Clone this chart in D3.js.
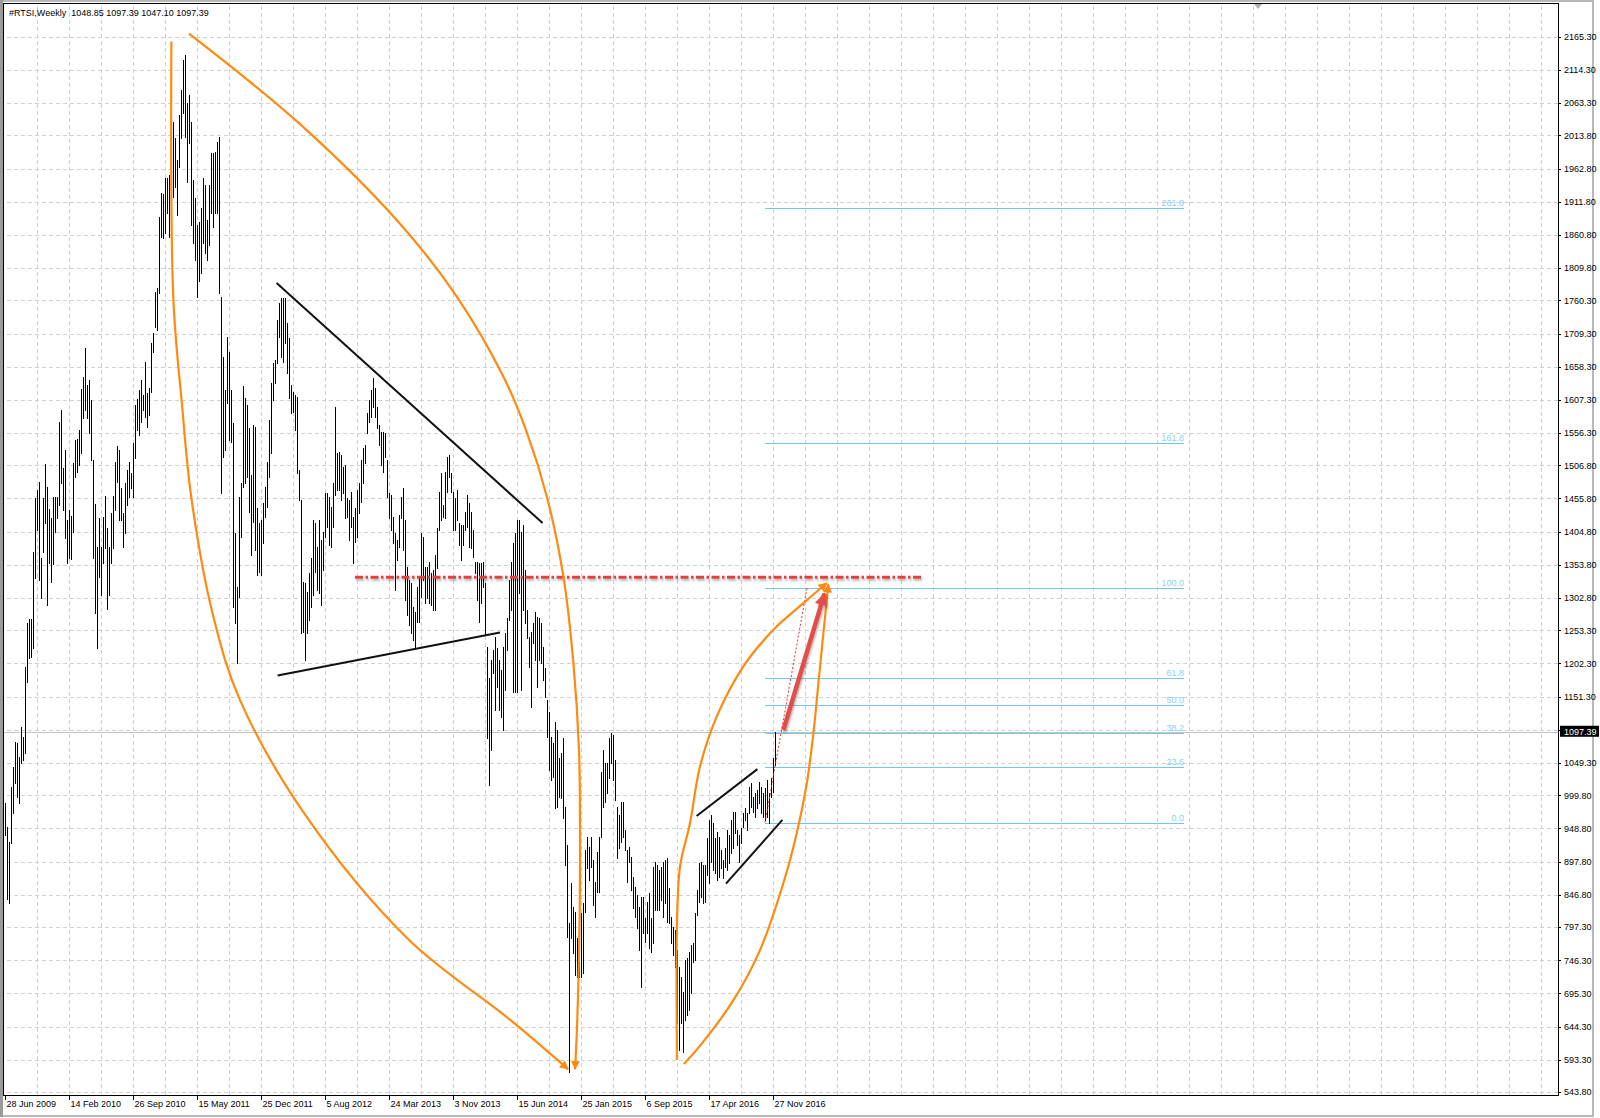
<!DOCTYPE html>
<html>
<head>
<meta charset="utf-8">
<script src="https://cdn.jsdelivr.net/npm/d3@7"></script>
<style>
  body { margin: 0; background: #fff; }
  svg { display: block; font-family: "Liberation Sans", Arial, sans-serif; }
  .axis text { font-size: 9px; fill: #000; }
  .axis .domain { display: none; }
  .axis line { stroke: #000; shape-rendering: crispEdges; }
  .grid line { stroke: #d0d0d0; stroke-dasharray: 4,3; shape-rendering: crispEdges; }
  .grid .domain { display: none; }
</style>
</head>
<body>
<div class="chart"></div>
<script>
// === Data (weekly bars) ===
const symbol = "#RTSI";
const timeframe = "Weekly";
const lastBar = [1048.85, 1097.39, 1047.10, 1097.39]; // open high low close

const hi = [
  988,951,928,1013,1043,1082,1080,1059,1105,1089,
  1197,1265,1271,1271,1374,1457,1469,1481,1364,1457,
  1509,1474,1440,1426,1458,1458,1458,1573,1592,1503,
  1530,1423,1438,1429,1510,1546,1547,1561,1624,1642,
  1687,1630,1638,1607,1515,1447,1381,1426,1381,1427,
  1460,1410,1381,1434,1460,1512,1537,1530,1472,1434,
  1480,1500,1512,1495,1541,1600,1609,1623,1638,1615,
  1665,1618,1626,1695,1710,1773,1779,1888,1925,1924,
  1948,1948,1953,2030,2034,2009,1976,2045,2083,2130,
  2137,2063,2075,2034,1945,1917,1876,1880,1902,1948,
  1937,1884,1937,1986,1986,1988,2003,2011,1765,1673,
  1622,1704,1681,1622,1572,1403,1320,1458,1480,1629,
  1610,1599,1564,1492,1569,1566,1441,1418,1423,1449,
  1474,1512,1576,1633,1664,1669,1730,1756,1764,1764,
  1764,1726,1702,1630,1619,1615,1612,1500,1454,1328,
  1326,1312,1341,1364,1423,1418,1381,1423,1392,1404,
  1464,1464,1458,1443,1480,1596,1526,1527,1523,1504,
  1507,1457,1454,1466,1427,1441,1469,1480,1515,1533,
  1538,1587,1607,1623,1641,1626,1596,1569,1558,1558,
  1556,1515,1464,1461,1427,1403,1392,1431,1458,1472,
  1423,1351,1331,1326,1289,1281,1320,1334,1403,1397,
  1351,1351,1358,1341,1346,1369,1410,1466,1495,1446,
  1497,1520,1523,1495,1466,1457,1469,1418,1415,1415,
  1435,1461,1449,1435,1407,1358,1358,1357,1357,1358,
  1326,1228,1180,1208,1223,1243,1226,1208,1192,1228,
  1249,1272,1331,1358,1387,1403,1423,1423,1404,1415,
  1346,1285,1243,1251,1265,1281,1274,1272,1265,1228,
  1195,1146,1128,1089,1080,1112,1100,1057,1065,1088,
  982,923,804,865,828,821,781,773,819,834,
  916,936,920,936,900,867,913,936,1036,1069,
  1049,1049,1088,1096,1092,1054,982,970,990,990,
  946,916,920,905,874,859,847,828,844,844,
  811,836,850,811,890,897,893,885,890,897,
  900,903,857,813,797,793,762,736,721,698,
  747,750,759,770,773,819,854,896,897,893,
  893,934,962,970,957,934,943,936,916,900,
  919,946,939,962,974,974,946,939,950,973,
  980,973,1013,1019,997,1003,1008,1020,1013,1003,
  1011,1023,1003,1026,1057,1097.39
];

const lo = [
  939,840,835,927,973,1019,997,988,1049,1054,
  1065,1174,1211,1212,1226,1334,1407,1331,1303,1374,
  1418,1292,1357,1328,1355,1404,1426,1446,1480,1438,
  1395,1357,1364,1363,1404,1489,1497,1507,1526,1579,
  1592,1579,1556,1515,1364,1280,1226,1335,1307,1357,
  1380,1286,1307,1357,1380,1438,1481,1423,1423,1381,
  1403,1446,1458,1472,1458,1518,1561,1553,1573,1592,
  1581,1566,1584,1619,1681,1719,1715,1772,1858,1856,
  1864,1894,1858,1858,1919,1934,1891,1965,2009,2048,
  2011,1942,2002,1876,1848,1822,1765,1790,1802,1848,
  1833,1822,1845,1894,1873,1894,1894,1771,1464,1520,
  1530,1602,1546,1543,1289,1265,1203,1305,1397,1474,
  1480,1489,1435,1369,1420,1377,1338,1343,1338,1387,
  1427,1443,1489,1526,1607,1633,1664,1704,1673,1665,
  1695,1649,1610,1587,1589,1561,1495,1454,1249,1251,
  1208,1249,1269,1289,1308,1343,1315,1311,1292,1346,
  1397,1412,1384,1381,1412,1461,1469,1469,1454,1464,
  1426,1427,1392,1412,1357,1389,1397,1434,1450,1480,
  1510,1557,1573,1581,1596,1581,1564,1538,1507,1497,
  1520,1458,1426,1407,1387,1315,1361,1381,1426,1377,
  1300,1277,1262,1249,1238,1226,1266,1266,1305,1331,
  1295,1303,1295,1292,1284,1284,1349,1407,1423,1427,
  1426,1466,1489,1466,1407,1407,1423,1384,1361,1384,
  1407,1412,1381,1380,1366,1341,1300,1266,1295,1320,
  1246,1088,1016,1069,1188,1131,1166,1131,1120,1100,
  1162,1223,1269,1285,1159,1159,1159,1311,1162,1285,
  1265,1241,1197,1136,1234,1208,1166,1208,1203,1177,
  1151,1089,1039,1023,1028,980,982,997,996,965,
  893,782,575,781,758,724,721,721,721,727,
  821,888,870,890,831,813,851,851,936,982,
  990,1003,1026,1049,1023,993,904,919,928,936,
  916,867,897,854,827,813,796,762,705,788,
  775,788,765,759,773,824,824,824,839,813,
  834,805,804,773,754,736,650,609,650,606,
  655,662,670,696,744,747,816,836,844,834,
  836,877,865,897,885,880,870,874,888,873,
  890,885,896,911,919,942,923,897,927,951,
  962,946,973,982,974,967,980,988,973,967,
  962,967,957,997,1005,1047.10
];

// === Axis labels ===
const priceTicks = [2165.30,2114.30,2063.30,2013.80,1962.80,1911.80,1860.80,1809.80,1760.30,1709.30,
  1658.30,1607.30,1556.30,1506.80,1455.80,1404.80,1353.80,1302.80,1253.30,1202.30,1151.30,1100.30,
  1049.30,999.80,948.80,897.80,846.80,797.30,746.30,695.30,644.30,593.30,543.80];
const dateIdx = [0,32,64,96,128,160,192,224,256,288,320,352,384];
const dateLabels = ["28 Jun 2009","14 Feb 2010","26 Sep 2010","15 May 2011","25 Dec 2011","5 Aug 2012",
  "24 Mar 2013","3 Nov 2013","15 Jun 2014","25 Jan 2015","6 Sep 2015","17 Apr 2016","27 Nov 2016"];

// === Fibonacci retracement ===
const fibLevels = [0, 23.6, 38.2, 50, 61.8, 100, 161.8, 261.8];
const fibAnchors = [[380, 957.8], [401, 1318.3]];
const fibEndBar = 589.5;

// === Drawn objects, as [bar index, price] ===
const arcLeft = [[83.2,2158],[84.2,1761],[88.3,1607],[93.3,1454],[104.2,1274],[117.5,1146],
  [150.5,968],[201.5,779],[252.5,655],[281.5,579]];
const arcRight = [[92,2170],[147.5,2031],[197.5,1878],[225.9,1766],[249.2,1643],[260.5,1561],
  [270.9,1459],[279.2,1336],[284.2,1203],[287,1069],[287.5,942],[287.2,788],[285.9,635],[285,579]];
const lensLeft = [[336,593],[335.8,685],[335.9,788],[337.5,890],[342.5,957],[347.5,1044],
  [355.9,1121],[369.2,1198],[384.2,1254],[399.2,1295],[410.9,1326]];
const lensRight = [[339.4,587],[345.9,609],[364.2,685],[377.5,762],[389.2,865],[395.9,942],
  [400.9,1018],[404.2,1095],[406.7,1172],[409.2,1249],[411.7,1324]];
const triUpper = [[135.8,1787],[268.8,1418]];
const triLower = [[136.3,1184],[247.5,1250]];
const flagUpper = [[345.8,968],[376.2,1040]];
const flagLower = [[360.5,864],[388.7,962]];
const resistance = [[175,1335],[458,1335]];
const targetArrow = [[389.2,1100],[409.8,1310]];
const shiftMark = 626.5; // chart shift marker, bar index

//Chart init
const W = 1600, H = 1118;
const plot = {left: 4, top: 4, right: 1558, bottom: 1095};

const svg = d3.select(".chart").append("svg")
    .attr("width", W)
    .attr("height", H);

// === Scales ===
const xScale = d3.scaleLinear().domain([0, 776.5]).range([5, 1558]);
const yScale = d3.scaleLinear().domain([543.8, 2165.3]).range([1092.1, 36.7]);

const defs = svg.append("defs");
defs.append("clipPath").attr("id", "clip")
  .append("rect")
    .attr("x", plot.left).attr("y", plot.top)
    .attr("width", plot.right - plot.left).attr("height", plot.bottom - plot.top);

function head(id, color, w, h) {
  defs.append("marker")
      .attr("id", id)
      .attr("viewBox", "0 0 10 10")
      .attr("refX", 9).attr("refY", 5)
      .attr("markerWidth", w).attr("markerHeight", h)
      .attr("markerUnits", "userSpaceOnUse")
      .attr("orient", "auto")
    .append("path")
      .attr("d", "M0,0 L10,5 L0,10 z")
      .attr("fill", color);
}
head("orangeHead", "#ff8a10", 10, 9);
head("redHead", "#e2504c", 17, 13);

const shadow = defs.append("filter").attr("id", "shadow")
    .attr("filterUnits", "userSpaceOnUse")
    .attr("x", 0).attr("y", 0).attr("width", W).attr("height", H);
shadow.append("feDropShadow")
    .attr("dx", 1).attr("dy", 2).attr("stdDeviation", 1.3)
    .attr("flood-color", "#000").attr("flood-opacity", 0.3);

// === window frame ===
svg.append("rect")
    .attr("x", 1).attr("y", 1).attr("width", 1592).attr("height", 1115)
    .attr("fill", "none").attr("stroke", "#b8b8b8").attr("stroke-width", 2);
svg.append("line")
    .attr("x1", 1.5).attr("x2", 1.5).attr("y1", 0).attr("y2", 1117)
    .attr("stroke", "#9a9a9a").attr("stroke-width", 3);

// === Grid ===
svg.append("g")
    .attr("class", "grid")
    .attr("transform", "translate(0," + plot.bottom + ")")
    .call(d3.axisBottom(xScale)
      .tickValues(d3.range(16, 777, 16))
      .tickSize(-(plot.bottom - plot.top))
      .tickFormat(""));

svg.append("g")
    .attr("class", "grid")
    .attr("transform", "translate(" + plot.right + ",0)")
    .call(d3.axisRight(yScale)
      .tickValues(priceTicks)
      .tickSize(-(plot.right - plot.left))
      .tickFormat(""));

const chart = svg.append("g").attr("clip-path", "url(#clip)");

// current price line
chart.append("line")
    .attr("x1", plot.left).attr("x2", plot.right)
    .attr("y1", Math.round(yScale(lastBar[3])) + 0.5)
    .attr("y2", Math.round(yScale(lastBar[3])) + 0.5)
    .attr("stroke", "#c4c4c4");

// chart shift marker
const sx = xScale(shiftMark);
chart.append("path")
    .attr("d", `M${sx - 4},${plot.top} L${sx + 4},${plot.top} L${sx},${plot.top + 5} Z`)
    .attr("fill", "#b0b0b0");

// === Fibo levels ===
const fibRange = fibAnchors[1][1] - fibAnchors[0][1];
const fibY = lvl => Math.round(yScale(fibAnchors[0][1] + fibRange * lvl / 100)) + 0.5;

chart.selectAll(".fib-line")
  .data(fibLevels)
  .enter()
  .append("line")
    .attr("class", "fib-line")
    .attr("x1", xScale(fibAnchors[0][0]))
    .attr("x2", xScale(fibEndBar))
    .attr("y1", d => fibY(d))
    .attr("y2", d => fibY(d))
    .attr("stroke", "#74c5ea")
    .attr("stroke-width", 1);

chart.selectAll(".fib-label")
  .data(fibLevels)
  .enter()
  .append("text")
    .attr("class", "fib-label")
    .attr("x", xScale(fibEndBar))
    .attr("y", d => fibY(d) - 3)
    .attr("text-anchor", "end")
    .attr("font-size", "9px")
    .attr("fill", "#8ccfef")
    .text(d => d3.format(".1f")(d));

// === Bars ===
chart.append("g")
  .selectAll("line")
  .data(hi)
  .enter()
  .append("line")
    .attr("x1", (d, i) => Math.round(xScale(i)) + 0.5)
    .attr("x2", (d, i) => Math.round(xScale(i)) + 0.5)
    .attr("y1", d => yScale(d))
    .attr("y2", (d, i) => yScale(lo[i]) + 1)
    .attr("stroke", "#000")
    .attr("stroke-width", 1.1)
    .attr("shape-rendering", "crispEdges");

// === Drawn objects ===
const straight = d3.line().x(d => xScale(d[0])).y(d => yScale(d[1]));
const smooth = d3.line().x(d => xScale(d[0])).y(d => yScale(d[1]))
    .curve(d3.curveCatmullRom.alpha(0.5));

[triUpper, triLower, flagUpper, flagLower].forEach(seg => {
  chart.append("path")
      .attr("d", straight(seg))
      .attr("fill", "none")
      .attr("stroke", "#111")
      .attr("stroke-width", 2);
});

// fibo trend (dotted)
chart.append("path")
    .attr("d", straight(fibAnchors))
    .attr("fill", "none")
    .attr("stroke", "#e8302c")
    .attr("stroke-width", 1)
    .attr("stroke-dasharray", "2,2");

// resistance, dash-dot
chart.append("path")
    .attr("d", straight(resistance))
    .attr("fill", "none")
    .attr("stroke", "#e4403c")
    .attr("stroke-width", 3)
    .attr("stroke-dasharray", "8,2.5,2.5,2.5")
    .attr("filter", "url(#shadow)");

[arcLeft, arcRight, lensLeft, lensRight].forEach(pts => {
  chart.append("path")
      .attr("d", smooth(pts))
      .attr("fill", "none")
      .attr("stroke", "#ff8a10")
      .attr("stroke-width", 2.2)
      .attr("marker-end", "url(#orangeHead)");
});

chart.append("path")
    .attr("d", straight(targetArrow))
    .attr("fill", "none")
    .attr("stroke", "#e2504c")
    .attr("stroke-width", 4.5)
    .attr("marker-end", "url(#redHead)")
    .attr("filter", "url(#shadow)");

// === Axes ===
const yAxis = d3.axisRight(yScale)
    .tickValues(priceTicks)
    .tickSize(3)
    .tickPadding(3)
    .tickFormat(d3.format(".2f"));

const xAxis = d3.axisBottom(xScale)
    .tickValues(dateIdx)
    .tickSize(5)
    .tickPadding(1)
    .tickFormat((d, k) => dateLabels[k]);

svg.append("g")
    .attr("class", "axis y-axis")
    .attr("transform", "translate(" + plot.right + ",0)")
    .call(yAxis);

svg.append("g")
    .attr("class", "axis x-axis")
    .attr("transform", "translate(0," + plot.bottom + ")")
    .call(xAxis)
  .selectAll("text")
    .attr("text-anchor", "start")
    .attr("x", 1);

// plot border
svg.append("rect")
    .attr("x", plot.left - 0.5).attr("y", plot.top - 0.5)
    .attr("width", plot.right - plot.left + 1)
    .attr("height", plot.bottom - plot.top + 1)
    .attr("fill", "none")
    .attr("stroke", "#000")
    .attr("shape-rendering", "crispEdges");

// price tag of last close
const tagY = yScale(lastBar[3]);
svg.append("rect")
    .attr("x", plot.right + 2).attr("y", tagY - 6)
    .attr("width", 39).attr("height", 11)
    .attr("fill", "#000");
svg.append("text")
    .attr("x", plot.right + 6).attr("y", tagY)
    .attr("dy", "0.32em")
    .attr("font-size", "9px")
    .attr("fill", "#fff")
    .text(d3.format(".2f")(lastBar[3]));

// header
svg.append("text")
    .attr("x", 9).attr("y", 16)
    .attr("font-size", "9px")
    .style("white-space", "pre")
    .text(symbol + "," + timeframe + "  " + lastBar.map(d3.format(".2f")).join(" "));
</script>
</body>
</html>
